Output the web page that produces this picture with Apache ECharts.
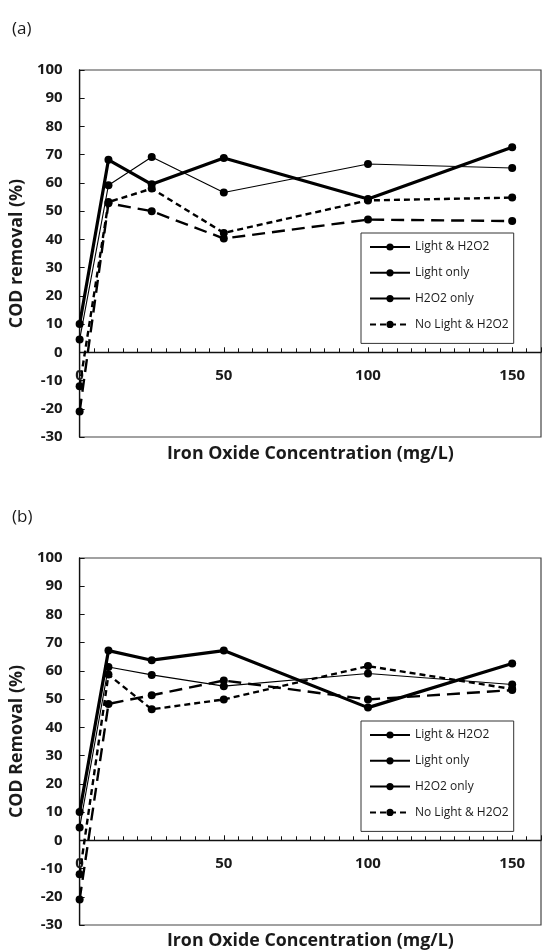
<!DOCTYPE html>
<html>
<head>
<meta charset="utf-8">
<script src="https://cdn.jsdelivr.net/npm/echarts@6/dist/echarts.min.js"></script>
<style>
  html, body { margin: 0; padding: 0; background: #fff; }
  #chart { width: 544px; height: 952px; }
</style>
</head>
<body>
<div id="chart"></div>
<script>
// Iron oxide dose (mg/L)
const ironOxide = [0, 10, 25, 50, 100, 150];

// Series names
const seriesNames = ['Light & H2O2', 'Light only', 'H2O2 only', 'No Light & H2O2'];

// Panel (a): COD removal (%)
const aLightH2O2   = [10, 68.2, 59.5, 68.8, 54.3, 72.6];
const aLightOnly   = [4.5, 59.2, 69.2, 56.6, 66.7, 65.3];
const aH2O2Only    = [-21, 52.8, 50.0, 40.3, 47.0, 46.5];
const aNoLightH2O2 = [-12, 53.2, 58.0, 42.3, 53.8, 54.8];

// Panel (b): COD removal (%)
const bLightH2O2   = [10, 67.2, 63.8, 67.2, 47.0, 62.6];
const bLightOnly   = [4.5, 61.4, 58.6, 54.6, 59.1, 55.2];
const bH2O2Only    = [-21, 48.3, 51.4, 56.6, 49.9, 53.2];
const bNoLightH2O2 = [-12, 58.7, 46.4, 49.9, 61.7, 53.6];

// Axis ticks
const xTicks = { min: 0, max: 160, interval: 50 };
const yTicks = { min: -30, max: 100, interval: 10 };

const FONT = 'Open Sans';
const INK = '#1a1a1a';

const lineStyles = [
  { width: 3.2, type: 'solid' },
  { width: 1.1, type: 'solid' },
  { width: 2.4, type: [13, 7] },
  { width: 2.4, type: [6, 4] }
];

function pairs(values) {
  return ironOxide.map((x, i) => [x, values[i]]);
}

function makeSeries(idx, values) {
  return seriesNames.map((name, k) => ({
    name: name,
    type: 'line',
    xAxisIndex: idx,
    yAxisIndex: idx,
    data: pairs(values[k]),
    symbol: 'circle',
    symbolSize: 8,
    clip: false,
    itemStyle: { color: '#000' },
    lineStyle: Object.assign({ color: '#000' }, lineStyles[k]),
    z: 10 - k
  }));
}

function makeGrid(top) {
  return {
    left: 79, top: top, width: 474, height: 367,
    show: true, borderColor: '#444', borderWidth: 1.2, backgroundColor: 'transparent'
  };
}

function makeX(idx, nameGap) {
  return {
    type: 'value', gridIndex: idx,
    min: xTicks.min, max: xTicks.max, interval: xTicks.interval,
    name: 'Iron Oxide Concentration (mg/L)',
    nameLocation: 'middle', nameGap: nameGap,
    nameTextStyle: { fontFamily: FONT, fontWeight: 'bold', fontSize: 17.8, color: INK, verticalAlign: 'middle' },
    axisLine: { onZero: true, lineStyle: { color: '#111', width: 1.3 } },
    axisTick: { inside: true, length: 5, lineStyle: { color: '#111', width: 1 } },
    minorTick: { show: true, splitNumber: 10, length: 4, lineStyle: { color: '#111', width: 1 } },
    axisLabel: { fontFamily: FONT, fontWeight: 'bold', fontSize: 15, color: INK, margin: -69,
      formatter: v => (v > 150 ? '' : String(v)) },
    splitLine: { show: false }
  };
}

function makeY(idx, name) {
  return {
    type: 'value', gridIndex: idx,
    min: yTicks.min, max: yTicks.max, interval: yTicks.interval,
    name: name, nameLocation: 'middle', nameGap: 50, nameRotate: 90,
    nameTextStyle: { fontFamily: FONT, fontWeight: 'bold', fontSize: 17.8, color: INK },
    axisLine: { show: true, lineStyle: { color: '#111', width: 1.3 } },
    axisTick: { show: true, inside: true, length: 5, lineStyle: { color: '#111', width: 1 } },
    axisLabel: { fontFamily: FONT, fontWeight: 'bold', fontSize: 15, color: INK, margin: 17 },
    splitLine: { show: false }
  };
}

function makeLegend(top) {
  return {
    orient: 'vertical', left: 361, top: top,
    itemWidth: 40, itemHeight: 9, itemGap: 13.8,
    padding: [8, 5, 13, 8],
    borderColor: '#333', borderWidth: 1,
    backgroundColor: '#fff',
    textStyle: { fontFamily: FONT, fontSize: 12, color: INK, padding: [0, 0, 0, 0] },
    data: [
      { name: seriesNames[0] },
      { name: seriesNames[1] },
      { name: seriesNames[2], lineStyle: { type: 'solid', width: 2 } },
      { name: seriesNames[3] }
    ]
  };
}

const chart = echarts.init(document.getElementById('chart'), null, { renderer: 'canvas' });
chart.setOption({
  animation: false,
  backgroundColor: '#fff',
  title: [
    { text: '(a)', left: 7, top: 16, textStyle: { fontFamily: FONT, fontWeight: 'normal', fontSize: 17, color: INK } },
    { text: '(b)', left: 7, top: 504, textStyle: { fontFamily: FONT, fontWeight: 'normal', fontSize: 17, color: INK } }
  ],
  grid: [makeGrid(70), makeGrid(558)],
  xAxis: [makeX(0, 17), makeX(1, 15.5)],
  yAxis: [makeY(0, 'COD removal (%)'), makeY(1, 'COD Removal (%)')],
  legend: [makeLegend(233), makeLegend(721)],
  series: [].concat(
    makeSeries(0, [aLightH2O2, aLightOnly, aH2O2Only, aNoLightH2O2]),
    makeSeries(1, [bLightH2O2, bLightOnly, bH2O2Only, bNoLightH2O2])
  )
});
</script>
</body>
</html>
